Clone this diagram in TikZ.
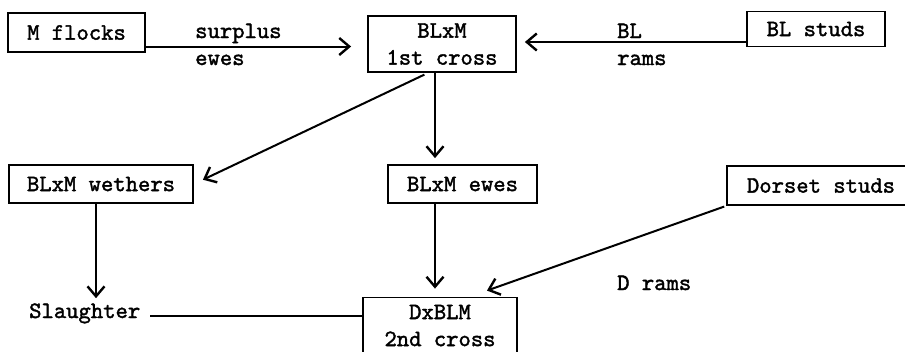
\documentclass[tikz,border=0pt]{standalone}
\usepackage{fontspec}
\setmonofont{lmmono10-regular.otf}[FakeBold=1.6]
\usetikzlibrary{shapes,arrows,arrows.meta}
\tikzstyle{block} = [draw, rectangle, line width=1.8pt, inner sep=0pt, minimum height=38pt]
\tikzstyle{txt} = [inner sep=0pt]
\tikzstyle{line} = [line width=2pt]

\begin{document}
\begin{tikzpicture}[x=1pt,y=-1pt,font=\ttfamily\fontsize{23.5}{27}\selectfont,
  >={Straight Barb[length=10pt,width=17pt,line width=2.4pt]}]
	\useasboundingbox (0,0) rectangle (905,351);
	\clip (0,0) rectangle (905,351);
	% put the boxes where they stand in the scheme
	\node [block,minimum width=137pt,minimum height=39pt] (mflocks) at (76.5,32.5) {M flocks};
	\node [block,minimum width=148pt,minimum height=56pt,align=center] (cross1) at (442,44) {BLxM\\1st cross};
	\node [block,minimum width=138pt,minimum height=35pt] (blstuds) at (816,29) {BL studs};
	\node [block,minimum width=184pt] (wethers) at (101,184) {BLxM wethers};
	\node [block,minimum width=149pt] (ewes) at (462.5,184) {BLxM ewes};
	\node [block,minimum width=188pt,minimum height=39pt] (dorset) at (821,185.5) {Dorset studs};
	\node [block,minimum width=154pt,minimum height=56pt,align=center] (cross2) at (440,325.5) {DxBLM\\2nd cross};
	\node [txt,anchor=base west] (slaughter) at (29,318) {Slaughter};

	% labels of the flows
	\node [txt,anchor=base west] (surplus) at (195,38) {surplus};
	\node [txt,anchor=base west] (ewesl) at (195,65) {ewes};
	\node [txt,anchor=base west] (bl) at (617,38) {BL};
	\node [txt,anchor=base west] (rams) at (617,65) {rams};
	\node [txt,anchor=base west] (drams) at (617,290) {D rams};

	% first cross
	\draw [line,->,shorten >=16pt] ([yshift=-14pt]mflocks.east) -- ([yshift=-14pt]mflocks.east -| cross1.west);
	\draw [line,->,shorten >=8pt] ([yshift=-13pt]blstuds.west) -- ([yshift=-13pt]blstuds.west -| cross1.east);
	\draw [line,->,shorten >=6pt] ([xshift=-7pt]cross1.south) -- ([xshift=-7pt]cross1.south |- ewes.north);
	\draw [line,->,shorten <=4pt,shorten >=10pt] ([xshift=-14pt]cross1.south) -- (wethers.east);

	% second cross
	\draw [line,->,shorten >=8pt] ([xshift=-7pt]cross1.south |- ewes.south) -- ([xshift=-7pt]cross1.south |- cross2.north);
	\draw [line,->,shorten <=2pt,shorten >=18pt] (dorset.south west) -- ([xshift=30pt]cross2.north);

	% wethers
	\draw [line,->,shorten >=5pt] ([xshift=-5pt]wethers.south) -- ([xshift=-5pt]wethers.south |- slaughter.north);
	\draw [line] ([xshift=10pt,yshift=-3pt]slaughter.east) -- ([yshift=-3pt]slaughter.east -| cross2.west);
\end{tikzpicture}
\end{document}
